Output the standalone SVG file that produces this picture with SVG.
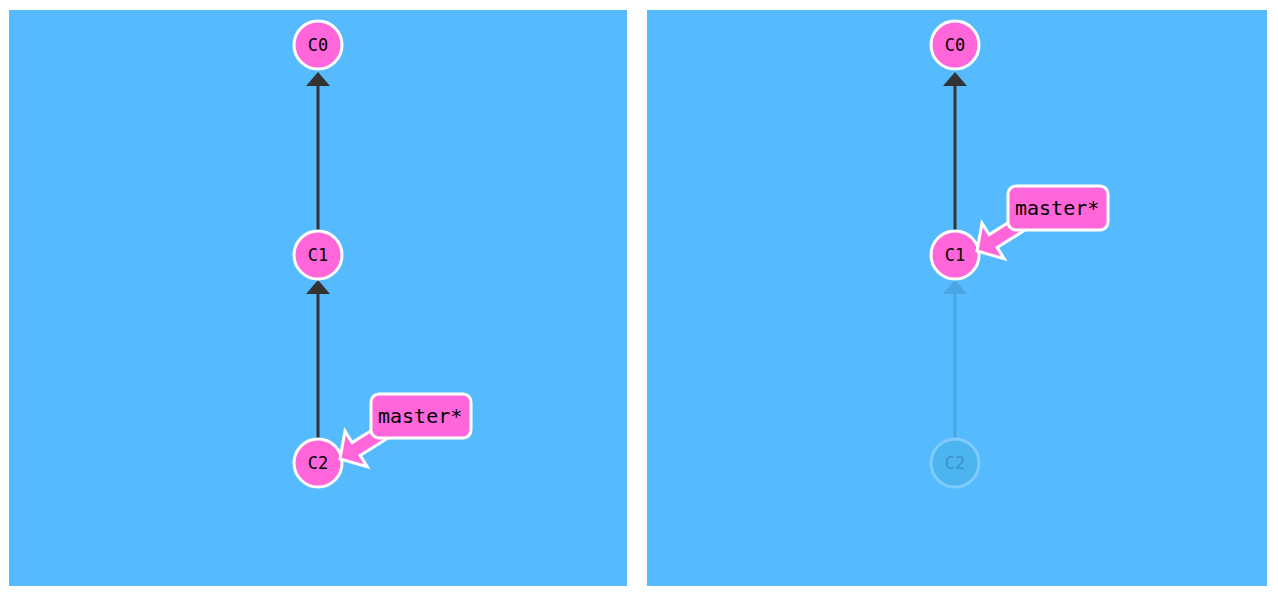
<svg xmlns="http://www.w3.org/2000/svg" width="1278" height="600" viewBox="0 0 1278 600">
<defs>
<style>
.bg{fill:#56baff}
.node circle{fill:#ff66d9;stroke:#fff;stroke-width:3}
.node text{font-family:"DejaVu Sans Mono","Liberation Mono",monospace;font-size:17px;fill:#000;text-anchor:middle;dominant-baseline:central}
.faded circle{fill:#4cb4ef;stroke:#7fcbff;stroke-width:3}
.faded text{fill:#3b92cc}
.edge{stroke:#333;stroke-width:3}
.edge-faded{stroke:#4aa5e3;stroke-width:3}
.head{fill:#333}
.head-faded{fill:#4aa5e3}
.label rect{fill:#ff66d9;stroke:#fff;stroke-width:3}
.label text{font-family:"DejaVu Sans Mono","Liberation Mono",monospace;font-size:20px;fill:#000}
.pointer{fill:#ff66d9;stroke:#fff;stroke-width:3;stroke-linejoin:miter}
</style>
</defs>
<rect width="1278" height="600" fill="#fff"/>
<rect class="bg" x="9" y="10" width="618" height="576"/>
<rect class="bg" x="647" y="10" width="620" height="576"/>

<g id="connectors">
<line class="edge" x1="318" y1="232" x2="318" y2="84"/>
<polygon class="head" points="318,72 306,86 330,86"/>
<line class="edge" x1="318" y1="440" x2="318" y2="292"/>
<polygon class="head" points="318,280 306,294 330,294"/>
<line class="edge" x1="955" y1="232" x2="955" y2="84"/>
<polygon class="head" points="955,72 943,86 967,86"/>
<line class="edge-faded" x1="955" y1="440" x2="955" y2="292"/>
<polygon class="head-faded" points="955,280 943,294 967,294"/>
</g>

<g id="left-C0" class="node"><circle cx="318" cy="45" r="24"/><text x="318" y="45">C0</text></g>
<g id="left-C1" class="node"><circle cx="318" cy="255" r="24"/><text x="318" y="255">C1</text></g>
<g id="left-C2" class="node"><circle cx="318" cy="463" r="24"/><text x="318" y="463">C2</text></g>

<g id="left-master" class="label">
<polygon class="pointer" points="340,459 345.0,431.2 352.1,442.6 390.3,418.8 398.3,431.6 360.1,455.4 367.2,466.8"/>
<rect x="371" y="394" width="100" height="44" rx="8"/>
<text x="378" y="423">master*</text>
</g>

<g id="right-C0" class="node"><circle cx="955" cy="45" r="24"/><text x="955" y="45">C0</text></g>
<g id="right-C1" class="node"><circle cx="955" cy="255" r="24"/><text x="955" y="255">C1</text></g>
<g id="right-C2" class="node faded"><circle cx="955" cy="463" r="24"/><text x="955" y="463">C2</text></g>

<g id="right-master" class="label">
<polygon class="pointer" points="977,251 982.0,223.2 989.1,234.6 1027.3,210.8 1035.3,223.6 997.1,247.4 1004.2,258.8"/>
<rect x="1008" y="186" width="100" height="44" rx="8"/>
<text x="1015" y="215">master*</text>
</g>
</svg>
